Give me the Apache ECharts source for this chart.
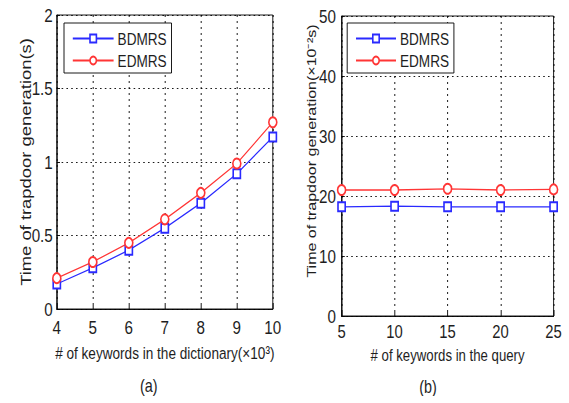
<!DOCTYPE html>
<html><head><meta charset="utf-8">
<script src="https://cdn.jsdelivr.net/npm/echarts@6/dist/echarts.min.js"></script>
<style>
html,body{margin:0;padding:0;background:#fff;overflow:hidden}
#wrap{width:569px;height:403px;overflow:hidden}
#c{width:712px;height:403px;transform:scaleX(0.8);transform-origin:0 0}
</style>
</head><body><div id="wrap"><div id="c"></div></div>
<script>
const dictSizes = [4, 5, 6, 7, 8, 9, 10];
const bdmrsDict = [0.17, 0.28, 0.40, 0.55, 0.72, 0.92, 1.17];
const edmrsDict = [0.21, 0.32, 0.45, 0.61, 0.79, 0.99, 1.27];
const querySizes = [5, 10, 15, 20, 25];
const bdmrsQuery = [18.2, 18.3, 18.2, 18.2, 18.2];
const edmrsQuery = [21.0, 21.0, 21.2, 21.0, 21.1];

const FONT = '"Liberation Sans", Arial, Helvetica, sans-serif';
const TXT = '#1e1e1e';
const BLUE = '#2a2aff';
const RED = '#ff3535';

function pairs(xs, ys){ return xs.map((x,i)=>[x, ys[i]]); }

const split = {show:true, lineStyle:{color:'#000', type:[2,4], width:1}};
const tick = {show:true, inside:true, length:4, lineStyle:{color:'#000'}};
function xAx(idx, min, max, interval, name, gap, margin, lfs, nfs){
  return {type:'value', gridIndex:idx, min, max, interval, name, nameLocation:'middle', nameGap:gap,
    nameMoveOverlap:false,
    nameTextStyle:{fontFamily:FONT, fontSize:nfs, lineHeight:nfs, color:TXT},
    axisLine:{show:true, lineStyle:{color:'#000'}}, axisTick:tick,
    axisLabel:{fontFamily:FONT, fontSize:lfs, lineHeight:lfs - 2, color:TXT, margin}, splitLine:split};
}
function yAx(idx, min, max, interval, name, gap, margin, fs, pad){
  return {type:'value', gridIndex:idx, min, max, interval, name, nameLocation:'middle', nameGap:gap,
    nameMoveOverlap:false,
    nameTextStyle:{fontFamily:FONT, fontSize:fs, color:TXT, padding:pad},
    axisLine:{show:true, lineStyle:{color:'#000'}}, axisTick:tick,
    axisLabel:{fontFamily:FONT, fontSize:19, color:TXT, margin}, splitLine:split};
}
function ser(name, idx, data, color, sym, size){
  return {name, type:'line', xAxisIndex:idx, yAxisIndex:idx, data, symbol:sym, symbolSize:size,
    lineStyle:{color, width:1.3}, itemStyle:{color, borderColor:color, borderWidth:1.3}, animation:false};
}
function legend(left, itemW){
  return {left, top:23, orient:'vertical', data:['BDMRS','EDMRS'], borderColor:'#000', borderWidth:1,
    padding:[7,6,4,10], itemGap:5, itemWidth:itemW, itemHeight:10, backgroundColor:'#fff',
    textStyle:{fontFamily:FONT, fontSize:17, color:TXT}};
}

const chart = echarts.init(document.getElementById('c'), null, {renderer:'svg'});
chart.setOption({
  animation:false,
  grid:[
    {left:71, top:15, width:270, height:294, show:true, borderColor:'#000', borderWidth:1},
    {left:427, top:16, width:265, height:300, show:true, borderColor:'#000', borderWidth:1}
  ],
  xAxis:[
    xAx(0, 4, 10, 1, '# of keywords in the dictionary(×10³)', 35, 10, 19, 17),
    xAx(1, 5, 25, 5, '# of keywords in the query', 31, 8, 18.5, 16.5)
  ],
  yAxis:[
    yAx(0, 0, 2, 0.5, 'Time of trapdoor generation(s)', 29, 5, 18.4, 0),
    yAx(1, 0, 50, 10, 'Time of trapdoor generation(×10⁻²s)', 30, 7, 16, [0,0,0,30])
  ],
  legend:[legend(80, 51), legend(434, 50)],
  title:[
    {text:'(a)', left:186, top:376, padding:0, textAlign:'center', textStyle:{fontFamily:FONT, fontSize:18, fontWeight:'normal', color:TXT}},
    {text:'(b)', left:535, top:377, padding:0, textAlign:'center', textStyle:{fontFamily:FONT, fontSize:18, fontWeight:'normal', color:TXT}}
  ],
  series:[
    ser('BDMRS', 0, pairs(dictSizes, bdmrsDict), BLUE, 'emptyRect', 9),
    ser('EDMRS', 0, pairs(dictSizes, edmrsDict), RED, 'emptyCircle', 10),
    ser('BDMRS', 1, pairs(querySizes, bdmrsQuery), BLUE, 'emptyRect', 9),
    ser('EDMRS', 1, pairs(querySizes, edmrsQuery), RED, 'emptyCircle', 10)
  ]
});
</script></body></html>
